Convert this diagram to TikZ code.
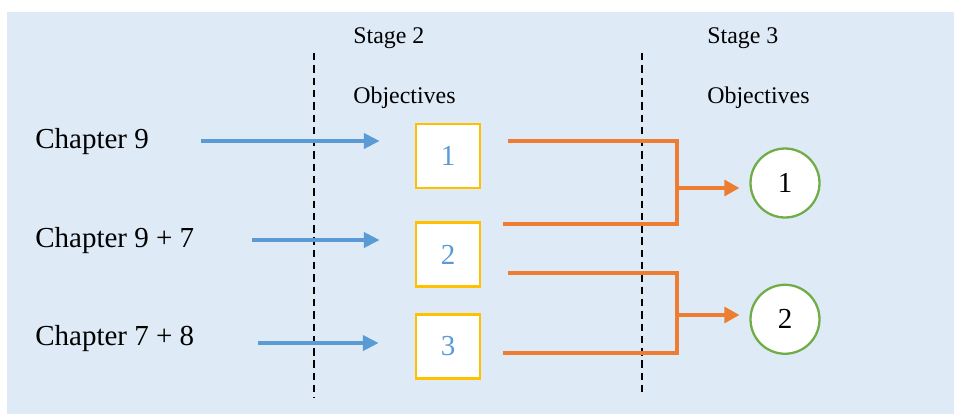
\documentclass[tikz,border=0pt]{standalone}
\usepackage{fontspec}
\setmainfont{Liberation Serif}
\usetikzlibrary{positioning,arrows.meta}
\definecolor{bgblue}{HTML}{DEEAF6}
\definecolor{arrblue}{HTML}{5B9BD5}
\definecolor{boxgold}{HTML}{FFC000}
\definecolor{lineorange}{HTML}{ED7D31}
\definecolor{ringgreen}{HTML}{70AD47}

\begin{document}
\begin{tikzpicture}[x=0.02cm,y=-0.02cm,
  chap/.style={anchor=base west,inner sep=0pt,font=\fontsize{16.5}{18}\selectfont},
  stage/.style={anchor=base west,inner sep=0pt,font=\fontsize{13.6}{16}\selectfont},
  obj/.style={draw=boxgold,line width=1.5pt,fill=white,minimum size=1.28cm,inner sep=0pt,text=arrblue,font=\fontsize{16.5}{18}\selectfont},
  goal/.style={circle,draw=ringgreen,line width=1.3pt,fill=white,minimum size=1.38cm,inner sep=0pt,font=\fontsize{16.5}{18}\selectfont},
  feed/.style={arrblue,line width=2.2pt,-{Triangle[length=9pt,width=8.5pt]}},
  merge/.style={lineorange,line width=1.9pt,line join=miter},
  stageline/.style={line width=1pt,dash pattern=on 4.2pt off 2.8pt}]
\fill[bgblue] (7,12) rectangle (954,414);
\useasboundingbox (0,0) rectangle (954,414);
% left column
\node[chap] (c1) at (35,148) {Chapter 9};
\node[chap] (c2) at (35,247) {Chapter 9 + 7};
\node[chap] (c3) at (35,345) {Chapter 7 + 8};
% stage headings
\node[stage] (s2) at (353,43) {Stage 2};
\node[stage] (s2o) at (353,103) {Objectives};
\node[stage] (s3) at (707,43) {Stage 3};
\node[stage] (s3o) at (707,103) {Objectives};
% stage 2 objectives
\node[obj] (o1) at (448,156) {1};
\node[obj, below=0.64cm of o1] (o2) {2};
\node[obj, below=0.5cm of o2] (o3) {3};
% stage 3 objectives
\node[goal] (p1) at (785,183) {1};
\node[goal, below=1.3cm of p1] (p2) {2};
% dividers
\coordinate (d1t) at (314,53);
\coordinate (d1b) at (314,398);
\coordinate (d2t) at (642,53);
\coordinate (d2b) at (642,392);
\draw[stageline] (d1t) -- (d1b);
\draw[stageline] (d2t) -- (d2b);
% chapters to objectives
\coordinate (a1) at (201,141);
\coordinate (a2) at (252,240);
\coordinate (a3) at (258,343);
\draw[feed, shorten >=0.7cm] (a1) -- (a1 -| o1.west);
\draw[feed, shorten >=0.7cm] (a2) -- (a2 -| o2.west);
\draw[feed, shorten >=0.72cm] (a3) -- (a3 -| o3.west);
% objectives merged
\coordinate (r1) at (508,141);
\coordinate (r2) at (503,224);
\coordinate (j1) at (677,188);
\coordinate (r3) at (508,273);
\coordinate (r4) at (503,353);
\coordinate (j2) at (677,315);
\draw[merge] (r1) -| (j1) |- (r2);
\draw[merge] (r3) -| (j2) |- (r4);
\draw[merge, -{Triangle[length=8.5pt,width=9pt]}, shorten >=0.2cm] (j1) -- (j1 -| p1.west);
\draw[merge, -{Triangle[length=8.5pt,width=9pt]}, shorten >=0.2cm] (j2) -- (j2 -| p2.west);
\end{tikzpicture}
\end{document}
